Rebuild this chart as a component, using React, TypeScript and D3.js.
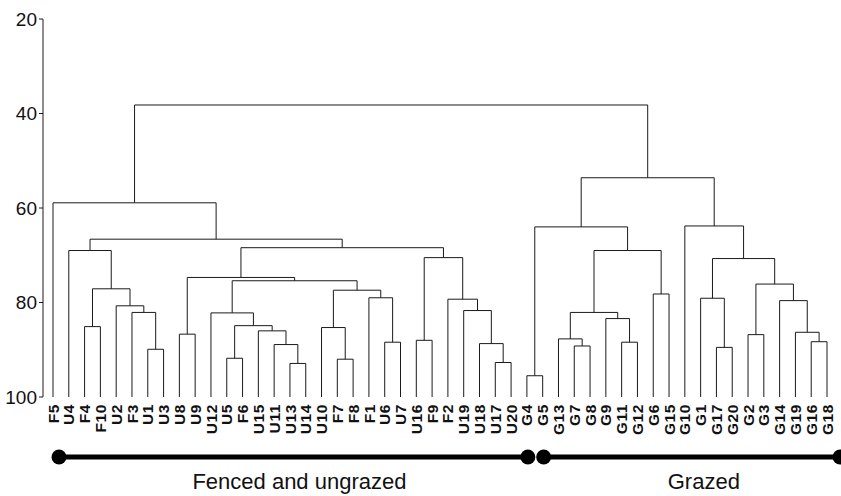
import React from "react";
import * as d3 from "d3";

const WIDTH = 841;
const HEIGHT = 496;

// leaf order, left to right
const leaves = [
  "F5", "U4", "F4", "F10", "U2", "F3", "U1", "U3", "U8", "U9",
  "U12", "U5", "F6", "U15", "U11", "U13", "U14", "U10", "F7", "F8",
  "F1", "U6", "U7", "U16", "F9", "F2", "U19", "U18", "U17", "U20",
  "G4", "G5", "G13", "G7", "G8", "G9", "G11", "G12", "G6", "G15",
  "G10", "G1", "G17", "G20", "G2", "G3", "G14", "G19", "G16", "G18",
];

// fenced / ungrazed side: [id, left, right, similarity]
const fencedMerges: [string, string, string, number][] = [
  ["m0", "U1", "U3", 89.9],
  ["m1", "F3", "m0", 82.1],
  ["m2", "U2", "m1", 80.7],
  ["m3", "F4", "F10", 85.1],
  ["m4", "m3", "m2", 77.1],
  ["m5", "U4", "m4", 69.0],
  ["m6", "U8", "U9", 86.7],
  ["m7", "U5", "F6", 91.8],
  ["m8", "U13", "U14", 92.9],
  ["m9", "U11", "m8", 88.9],
  ["m10", "U15", "m9", 86.0],
  ["m11", "m7", "m10", 84.9],
  ["m12", "U12", "m11", 82.2],
  ["m13", "F7", "F8", 92.0],
  ["m14", "U10", "m13", 85.3],
  ["m15", "U6", "U7", 88.4],
  ["m16", "F1", "m15", 79.0],
  ["m17", "m14", "m16", 77.4],
  ["m18", "m12", "m17", 75.4],
  ["m19", "m6", "m18", 74.7],
  ["m20", "U16", "F9", 88.0],
  ["m21", "U17", "U20", 92.7],
  ["m22", "U18", "m21", 88.7],
  ["m23", "U19", "m22", 81.7],
  ["m24", "F2", "m23", 79.3],
  ["m25", "m20", "m24", 70.5],
  ["m26", "m19", "m25", 68.4],
  ["m27", "m5", "m26", 66.6],
  ["m28", "F5", "m27", 58.9],
];

// grazed side
const grazedMerges: [string, string, string, number][] = [
  ["g0", "G4", "G5", 95.5],
  ["g1", "G7", "G8", 89.2],
  ["g2", "G13", "g1", 87.7],
  ["g3", "G11", "G12", 88.4],
  ["g4", "G9", "g3", 83.4],
  ["g5", "g2", "g4", 82.1],
  ["g6", "G6", "G15", 78.2],
  ["g7", "g5", "g6", 69.0],
  ["g8", "g0", "g7", 64.0],
  ["g9", "G17", "G20", 89.5],
  ["g10", "G1", "g9", 79.1],
  ["g11", "G2", "G3", 86.8],
  ["g12", "G16", "G18", 88.3],
  ["g13", "G19", "g12", 86.3],
  ["g14", "G14", "g13", 79.6],
  ["g15", "g11", "g14", 76.1],
  ["g16", "g10", "g15", 70.7],
  ["g17", "G10", "g16", 63.8],
  ["g18", "g8", "g17", 53.6],
];

const rootMerge: [string, string, string, number][] = [["root", "m28", "g18", 38.2]];

const yTicks = [20, 40, 60, 80, 100];

const groups = [
  { label: "Fenced and ungrazed", from: "F5", to: "G4" },
  { label: "Grazed", from: "G5", to: "G18" },
];

export default function App() {
  const x = d3.scalePoint<string>().domain(leaves).range([53, 827]);
  const y = d3.scaleLinear().domain([20, 100]).range([19, 397]);

  const nodes = new Map<string, { x: number; h: number }>();
  leaves.forEach((l) => nodes.set(l, { x: x(l)!, h: 100 }));

  const links = [...fencedMerges, ...grazedMerges, ...rootMerge].map(([id, a, b, h]) => {
    const l = nodes.get(a)!;
    const r = nodes.get(b)!;
    nodes.set(id, { x: (l.x + r.x) / 2, h });
    const p = d3.path();
    p.moveTo(l.x, y(l.h));
    p.lineTo(l.x, y(h));
    p.lineTo(r.x, y(h));
    p.lineTo(r.x, y(r.h));
    return <path key={id} d={p.toString()} fill="none" stroke="#1a1a1a" strokeWidth={1} />;
  });

  const axisX = 43;
  const barY = 457;
  const offsets = [
    { a: 6, b: 1, t: 6 },
    { a: 1, b: 13, t: 12 },
  ];

  return (
    <svg
      width={WIDTH}
      height={HEIGHT}
      style={{ position: "absolute", left: 0, top: 0, background: "#fff" }}
      fontFamily="'Liberation Sans', Arial, sans-serif"
    >
      {/* y axis */}
      <line x1={axisX} x2={axisX} y1={y(20)} y2={y(100)} stroke="#1a1a1a" />
      {yTicks.map((t) => (
        <g key={t}>
          <line x1={axisX - 4} x2={axisX} y1={y(t)} y2={y(t)} stroke="#1a1a1a" />
          <text x={axisX - 6} y={y(t)} dy="0.36em" textAnchor="end" fontSize={19} fill="#111">
            {t}
          </text>
        </g>
      ))}

      {links}

      {/* leaf labels */}
      {leaves.map((l) => (
        <text
          key={l}
          transform={`translate(${x(l)}, 404) rotate(-90)`}
          textAnchor="end"
          dy="0.36em"
          fontSize={15.5}
          fontWeight="bold"
          letterSpacing={0.6}
          fill="#111"
        >
          {l}
        </text>
      ))}

      {/* treatment bars */}
      {groups.map((g, i) => {
        const x1 = x(g.from)! + offsets[i].a;
        const x2 = x(g.to)! + offsets[i].b;
        return (
          <g key={g.label}>
            <line x1={x1} x2={x2} y1={barY} y2={barY} stroke="#000" strokeWidth={5} />
            <circle cx={x1} cy={barY} r={7.5} fill="#000" />
            <circle cx={x2} cy={barY} r={7.5} fill="#000" />
            <text x={(x1 + x2) / 2 + offsets[i].t} y={489} textAnchor="middle" fontSize={22} fill="#111">
              {g.label}
            </text>
          </g>
        );
      })}
    </svg>
  );
}
